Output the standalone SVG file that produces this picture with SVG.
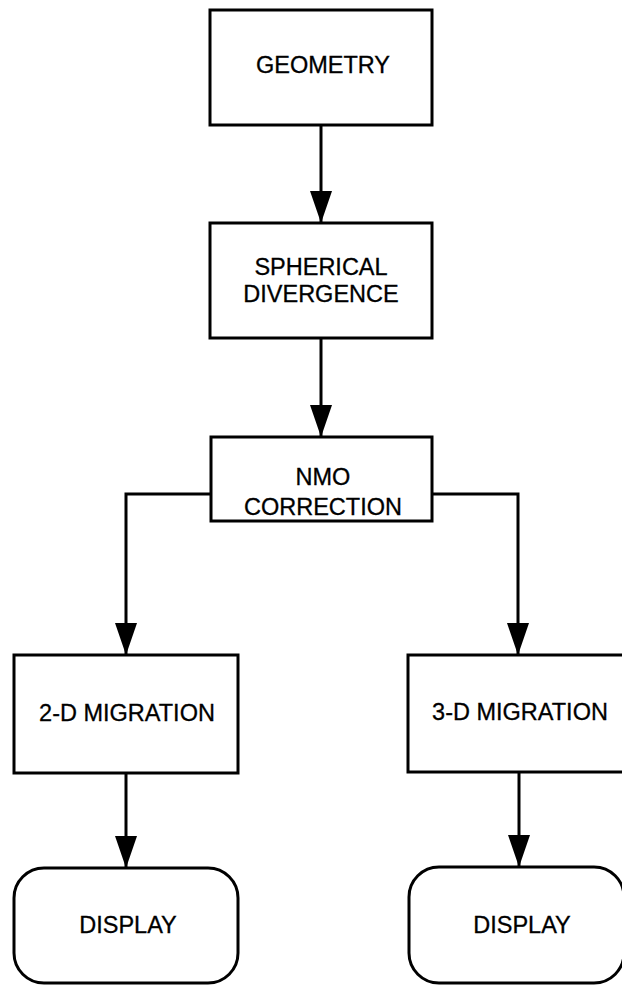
<svg xmlns="http://www.w3.org/2000/svg" width="622" height="985" viewBox="0 0 622 985">
<defs>
<marker id="ah" markerUnits="userSpaceOnUse" markerWidth="32" markerHeight="22" refX="32" refY="11" orient="auto" viewBox="0 0 32 22">
<path d="M0,0 L32,11 L0,22 Z" fill="#000"/>
</marker>
<style>
.box{fill:#fff;stroke:#000;stroke-width:3}
.t{font-family:"Liberation Sans",Arial,sans-serif;font-size:23.5px;fill:#000;text-anchor:middle;stroke:#000;stroke-width:0.3}
.c{fill:none;stroke:#000;stroke-width:3}
</style>
</defs>
<rect width="622" height="985" fill="#fff"/>
<g id="connectors">
<line class="c" x1="321" y1="125" x2="321" y2="223" marker-end="url(#ah)"/>
<line class="c" x1="321" y1="338" x2="321" y2="437" marker-end="url(#ah)"/>
<polyline class="c" points="211,494 126,494 126,655" marker-end="url(#ah)"/>
<polyline class="c" points="432,494 518,494 518,655" marker-end="url(#ah)"/>
<line class="c" x1="126" y1="773" x2="126" y2="868" marker-end="url(#ah)"/>
<line class="c" x1="519" y1="772" x2="519" y2="867" marker-end="url(#ah)"/>
</g>
<g id="geometry">
<rect class="box" x="210" y="10" width="222" height="115"/>
<text class="t" x="323" y="73">GEOMETRY</text>
</g>
<g id="spherical">
<rect class="box" x="210" y="223" width="222" height="115"/>
<text class="t" x="321" y="275">SPHERICAL</text>
<text class="t" x="321" y="302">DIVERGENCE</text>
</g>
<g id="nmo">
<rect class="box" x="211" y="437" width="221" height="84"/>
<text class="t" x="323" y="485">NMO</text>
<text class="t" x="323" y="515">CORRECTION</text>
</g>
<g id="mig2d">
<rect class="box" x="14" y="655" width="224" height="118"/>
<text class="t" x="127" y="721">2-D MIGRATION</text>
</g>
<g id="mig3d">
<rect class="box" x="408" y="655" width="216" height="117"/>
<text class="t" x="520" y="720">3-D MIGRATION</text>
</g>
<g id="display2d">
<rect class="box" x="14" y="868" width="224" height="115" rx="30" ry="30"/>
<text class="t" x="128" y="933">DISPLAY</text>
</g>
<g id="display3d">
<rect class="box" x="409" y="867" width="215" height="116" rx="30" ry="30"/>
<text class="t" x="522" y="933">DISPLAY</text>
</g>
</svg>
